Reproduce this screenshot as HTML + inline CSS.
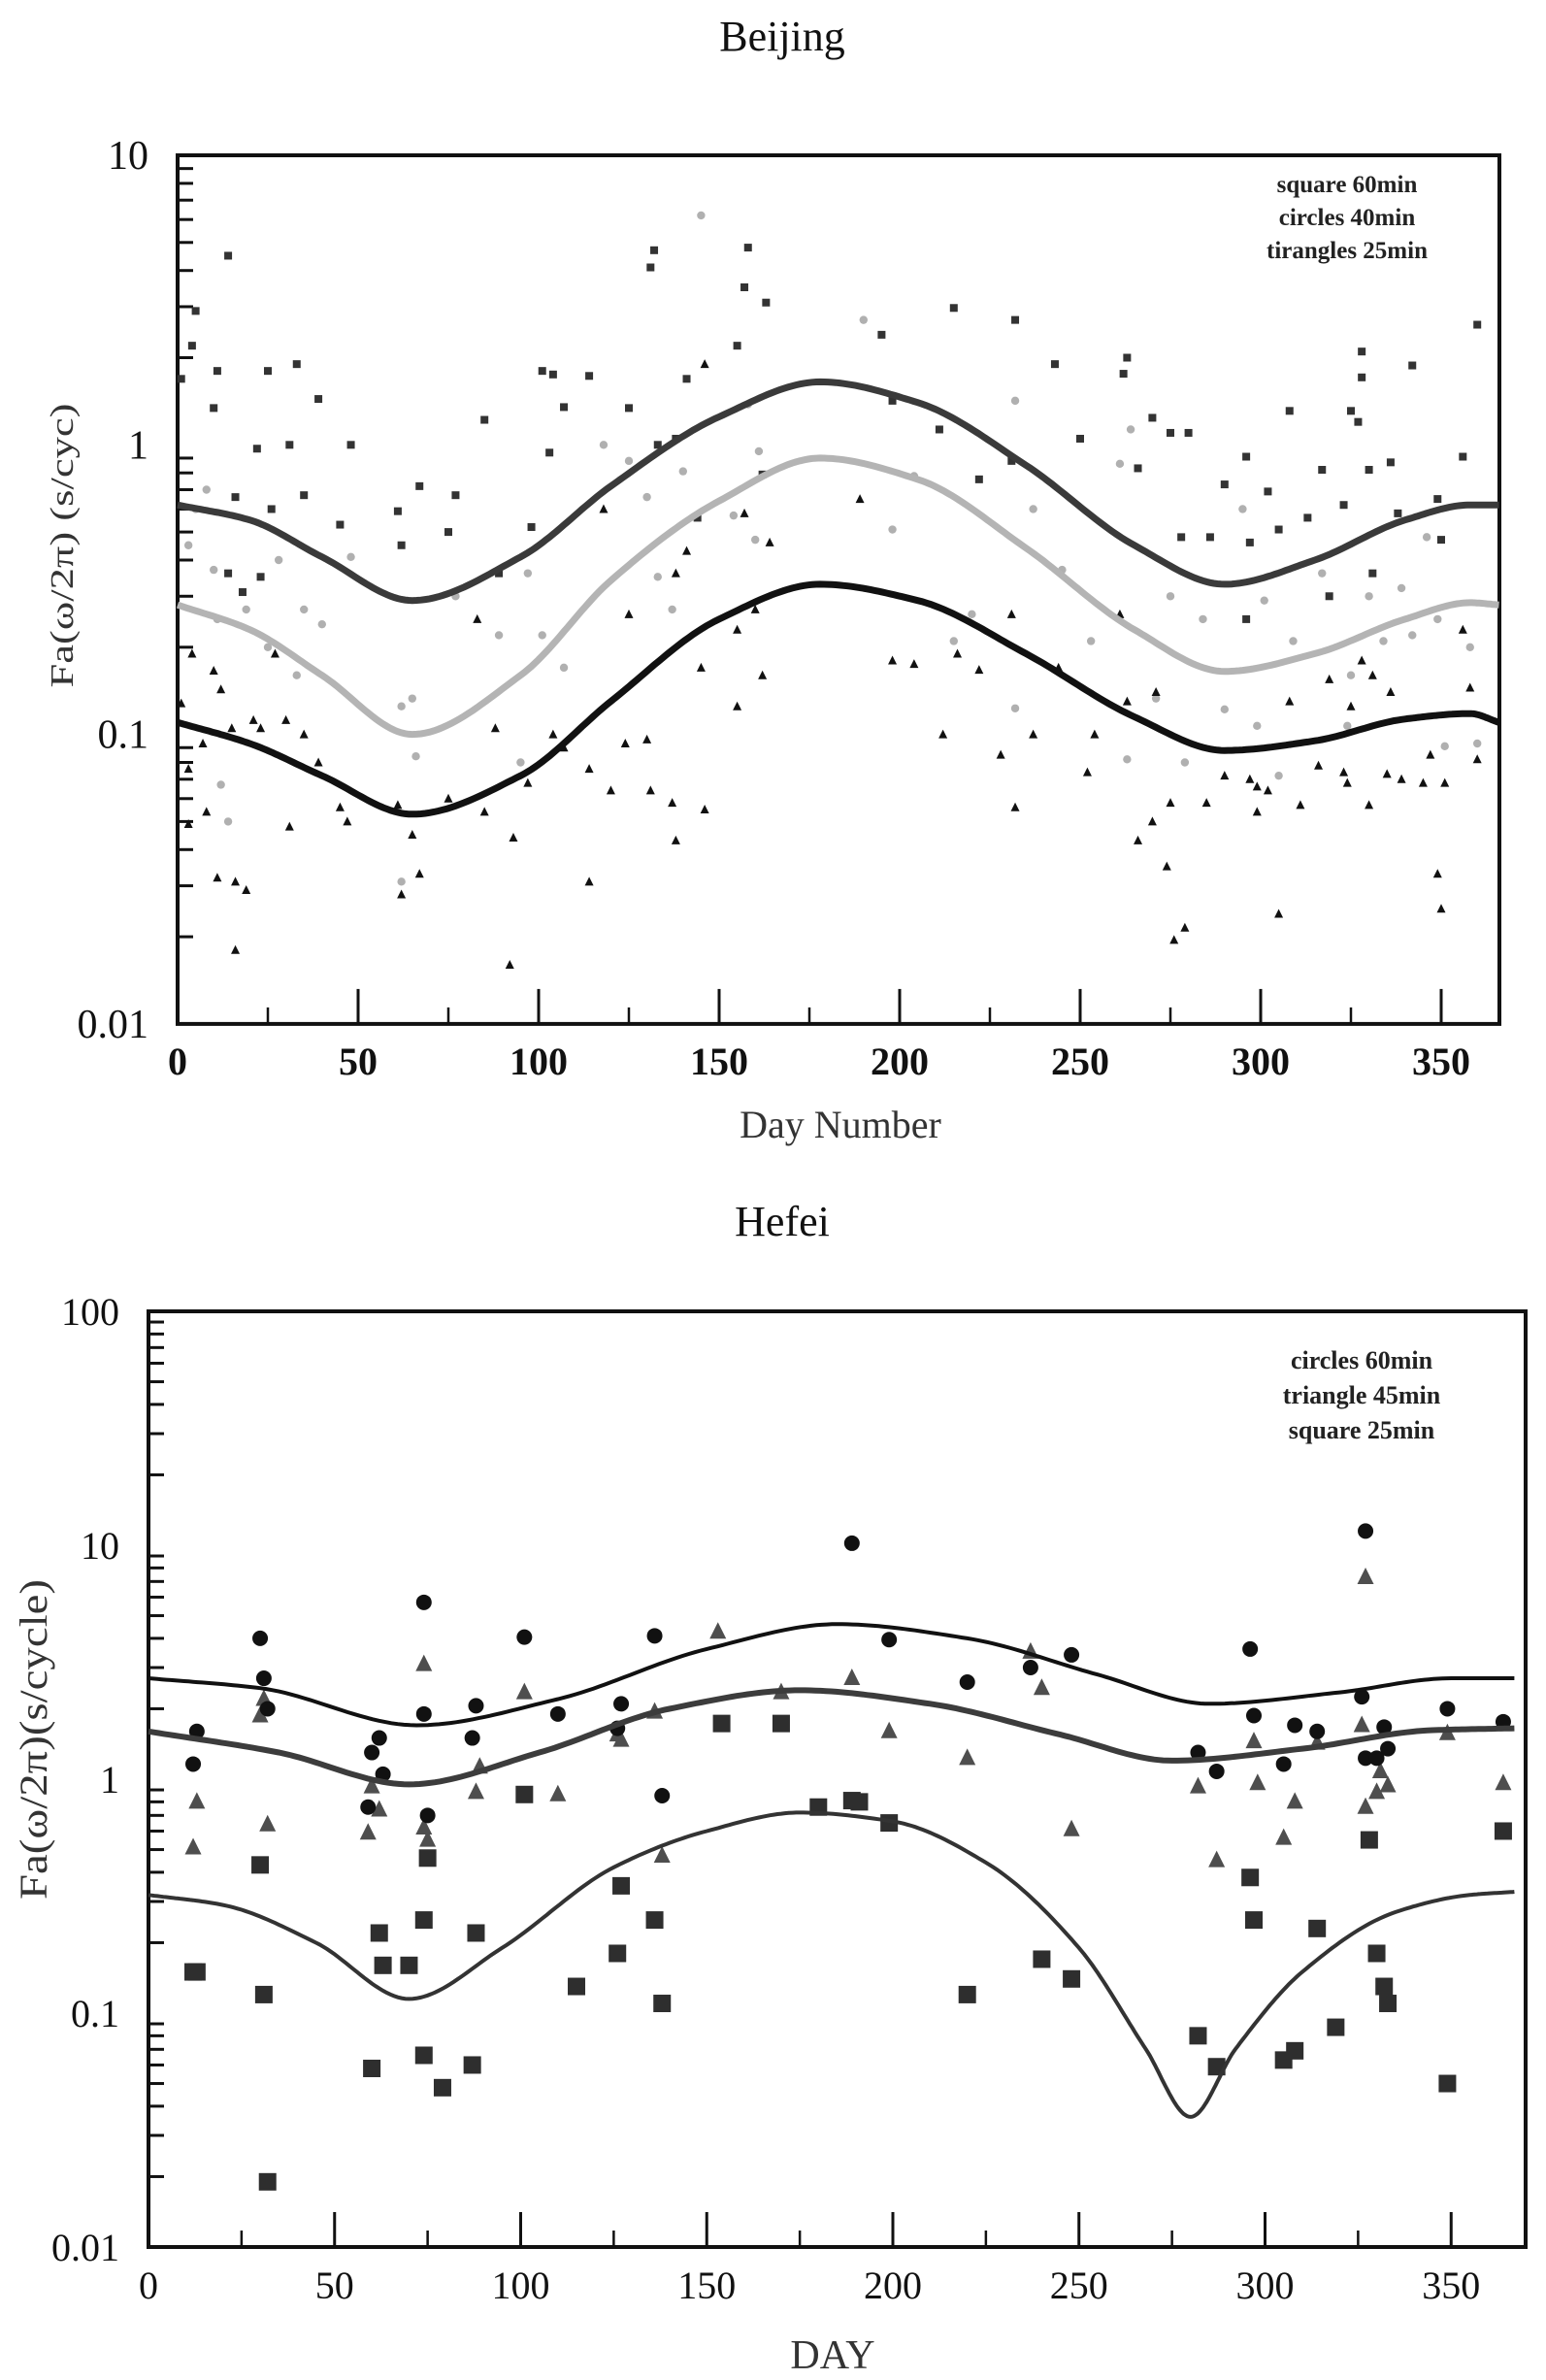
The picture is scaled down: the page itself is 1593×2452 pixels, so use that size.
<!DOCTYPE html>
<html><head><meta charset="utf-8"><title>Beijing and Hefei Fa(ω/2π) by day</title>
<style>
html,body{margin:0;padding:0;background:#fff;}
svg{display:block;}
text{font-family:"Liberation Serif",serif;}
</style></head>
<body>
<svg id="root" width="1593" height="2452" viewBox="0 0 1593 2452" xmlns="http://www.w3.org/2000/svg"></svg>
<script>
// ===== Beijing data =====
const bjSqDays=[1,4,5,14,11,10,16,14,18,22,23,25,26,31,33,35,39,45,48,61,62,67,75,77,85,89,98,101,103,104,107,114,125,132,131,133,138,141,144,155,157,158,163,162,195,198,211,215,222,232,231,243,250,262,263,266,270,275,280,278,286,290,296,297,296,302,305,308,313,317,319,323,325,327,328,328,330,331,336,338,342,349,350,356,360];
const bjSqVals=[1.69,2.2,2.9,4.5,1.8,1.34,0.66,0.36,0.31,0.97,0.35,1.8,0.6,1.0,1.9,0.67,1.44,0.53,1.0,0.59,0.45,0.72,0.5,0.67,1.22,0.36,0.52,1.8,0.94,1.75,1.35,1.73,1.34,4.7,4.1,1.0,1.05,1.69,0.56,2.2,3.5,4.8,3.1,0.79,2.4,1.42,1.13,2.97,0.76,2.7,0.88,1.9,1.05,1.76,2.0,0.83,1.24,1.1,1.1,0.48,0.48,0.73,0.91,0.46,0.25,0.69,0.51,1.31,0.56,0.82,0.3,0.62,1.31,1.2,1.71,2.1,0.82,0.36,0.87,0.58,1.88,0.65,0.47,0.91,2.6];
const bjCiDays=[3,5,8,10,11,14,12,19,25,28,33,35,40,48,62,62,65,66,77,89,95,97,101,107,118,125,130,133,137,140,145,154,158,160,161,190,198,204,215,220,232,232,237,245,253,261,263,264,271,275,279,284,290,295,299,301,305,309,317,324,325,330,334,339,342,346,349,351,358,360];
const bjCiVals=[0.45,0.6,0.7,0.37,0.25,0.05,0.067,0.27,0.2,0.4,0.16,0.27,0.24,0.41,0.031,0.125,0.133,0.084,0.3,0.22,0.08,0.36,0.22,0.17,1.0,0.88,0.66,0.35,0.27,0.81,6.2,0.57,1.38,0.47,0.95,2.7,0.51,0.78,0.21,0.26,1.42,0.123,0.6,0.37,0.21,0.86,0.082,1.13,0.133,0.3,0.08,0.25,0.122,0.6,0.107,0.29,0.072,0.21,0.36,0.107,0.16,0.3,0.21,0.32,0.22,0.48,0.25,0.091,0.2,0.093];
const bjTrDays=[1,3,3,4,7,8,10,12,15,16,16,19,11,21,23,27,30,31,35,39,45,47,61,62,65,67,75,83,85,88,92,93,97,104,107,114,114,118,120,124,125,130,131,137,138,138,141,146,145,146,155,155,157,160,162,164,189,198,204,212,216,222,228,231,232,237,244,252,254,261,263,266,270,271,274,275,276,279,285,290,297,299,299,302,305,308,311,316,319,323,324,325,328,330,331,335,336,339,345,347,349,350,351,356,358,360];
const bjTrVals=[0.128,0.076,0.049,0.19,0.093,0.054,0.166,0.143,0.105,0.018,0.031,0.029,0.032,0.112,0.105,0.19,0.112,0.048,0.1,0.08,0.056,0.05,0.057,0.028,0.045,0.033,0.06,0.25,0.054,0.105,0.016,0.044,0.068,0.1,0.09,0.076,0.031,0.6,0.064,0.093,0.26,0.096,0.064,0.058,0.043,0.36,0.43,1.9,0.17,0.055,0.125,0.23,0.58,0.27,0.16,0.46,0.65,0.18,0.175,0.1,0.19,0.167,0.085,0.26,0.056,0.1,0.17,0.074,0.1,0.26,0.13,0.043,0.05,0.14,0.035,0.058,0.0195,0.0215,0.058,0.072,0.07,0.066,0.054,0.064,0.024,0.13,0.057,0.078,0.155,0.074,0.068,0.125,0.18,0.057,0.16,0.073,0.14,0.07,0.068,0.085,0.033,0.025,0.068,0.23,0.145,0.082];
const bjFitDays=[0,20,40,65,95,120,150,178,205,235,265,290,315,340,358,366];
const bjFitSq=[0.62,0.55,0.41,0.29,0.41,0.72,1.25,1.65,1.4,0.85,0.45,0.33,0.40,0.55,0.62,0.62];
const bjFitCi=[0.28,0.23,0.16,0.10,0.16,0.34,0.64,0.90,0.76,0.44,0.23,0.165,0.19,0.25,0.285,0.28];
const bjFitTr=[0.11,0.093,0.072,0.053,0.072,0.13,0.25,0.33,0.29,0.19,0.115,0.088,0.095,0.113,0.118,0.11];
const bjYTicks=["10","1","0.1","0.01"];
const bjXTicks=[0,50,100,150,200,250,300,350];
// ===== Hefei data =====
const hfCiDays=[12,13,30,31,32,59,60,62,63,74,74,75,87,88,101,110,126,127,136,138,189,199,220,237,248,282,287,296,297,305,308,314,326,327,327,330,332,333,349,364];
const hfCiVals=[1.16,1.6,4.0,2.7,2.0,0.76,1.3,1.5,1.05,5.7,1.9,0.7,1.5,2.06,4.05,1.9,1.65,2.1,4.1,0.85,10.2,3.95,2.6,3.0,3.4,1.3,1.08,3.6,1.87,1.16,1.7,1.6,2.25,11.5,1.23,1.23,1.67,1.35,2.0,1.76];
const hfTrDays=[12,13,30,31,32,59,60,62,74,74,75,88,89,101,110,126,127,136,138,153,170,189,199,220,237,240,248,282,287,297,298,305,308,314,327,327,326,330,331,333,349,364];
const hfTrVals=[0.51,0.8,1.87,2.2,0.64,0.59,0.93,0.74,3.1,0.62,0.55,0.88,1.13,2.35,0.86,1.55,1.47,1.94,0.47,4.26,2.35,2.7,1.6,1.23,3.5,2.45,0.61,0.93,0.45,1.45,0.96,0.56,0.8,1.43,7.3,0.76,1.7,0.88,1.08,0.94,1.57,0.96];
const hfSqDays=[12,13,30,31,32,60,62,63,70,74,74,75,79,87,88,101,115,126,127,136,138,154,170,180,189,191,199,220,240,248,282,287,296,297,305,308,314,319,328,330,332,333,349,364];
const hfSqVals=[0.15,0.15,0.43,0.12,0.019,0.058,0.22,0.16,0.16,0.25,0.066,0.46,0.048,0.06,0.22,0.86,0.13,0.18,0.35,0.25,0.11,1.73,1.73,0.76,0.81,0.8,0.65,0.12,0.17,0.14,0.08,0.059,0.38,0.25,0.063,0.069,0.23,0.087,0.55,0.18,0.13,0.11,0.05,0.6];
const hfFitDays=[0,30,72,110,150,185,220,255,285,320,350,367];
const hfFitCi=[2.7,2.45,1.7,2.2,3.6,4.6,4.0,2.8,2.1,2.35,2.7,2.7];
const hfFitDays2=[0,35,70,105,140,175,210,245,275,310,345,367];
const hfFitTr=[1.6,1.3,0.95,1.3,2.0,2.4,2.1,1.55,1.2,1.35,1.62,1.65];
const hfFitDays3=[0,20,45,70,95,125,150,175,200,225,250,268,280,292,310,335,355,367];
const hfFitSq=[0.32,0.29,0.2,0.115,0.19,0.42,0.6,0.72,0.66,0.44,0.19,0.07,0.036,0.07,0.15,0.27,0.32,0.33];
const hfYTicks=["100","10","1","0.1","0.01"];
const hfXTicks=[0,50,100,150,200,250,300,350];

const NS="http://www.w3.org/2000/svg";
const root=document.getElementById('root');
function mk(tag,attrs,parent){const e=document.createElementNS(NS,tag);for(const k in attrs)e.setAttribute(k,attrs[k]);(parent||root).appendChild(e);return e;}

function makeAxes(o){
  const x=d=>o.x0+d*o.pxDay;
  const y=v=>o.yTop+(o.logMax-Math.log10(v))*o.decade;
  return {x,y};
}
function smooth(days,vals,ax){
  // monotone cubic (Fritsch-Carlson) in log space
  const n=days.length,X=days,Y=vals.map(v=>Math.log10(v));
  const h=[],s=[];
  for(let i=0;i<n-1;i++){h.push(X[i+1]-X[i]);s.push((Y[i+1]-Y[i])/h[i]);}
  const m=new Array(n);
  m[0]=s[0];m[n-1]=s[n-2];
  for(let i=1;i<n-1;i++){
    if(s[i-1]*s[i]<=0)m[i]=0;
    else{const w1=2*h[i]+h[i-1],w2=h[i]+2*h[i-1];m[i]=(w1+w2)/(w1/s[i-1]+w2/s[i]);}
  }
  const pts=[];
  for(let i=0;i<n-1;i++){
    for(let t=0;t<1;t+=0.04){
      const t2=t*t,t3=t2*t;
      const yy=(2*t3-3*t2+1)*Y[i]+(t3-2*t2+t)*h[i]*m[i]+(-2*t3+3*t2)*Y[i+1]+(t3-t2)*h[i]*m[i+1];
      pts.push([X[i]+t*h[i],yy]);
    }
  }
  pts.push([X[n-1],Y[n-1]]);
  return pts.map((p,i)=>(i?'L':'M')+ax.x(p[0]).toFixed(1)+' '+ax.y(Math.pow(10,p[1])).toFixed(1)).join(' ');
}

function drawFrame(g,o,ax,yTicks,xTicks,boldX,fs){
  const yB=o.yTop+o.decades*o.decade;
  const frame=mk('rect',{x:o.x0,y:o.yTop,width:o.xR-o.x0,height:yB-o.yTop,fill:'none',stroke:'#111','stroke-width':4},g);
  
  
  for(let d=0;d<o.decades;d++){
    const base=Math.pow(10,o.logMax-d-1);
    for(let m=2;m<=9;m++){
      const yy=ax.y(base*m);
      const t=mk('line',{x1:o.x0,x2:o.x0+16,y1:yy,y2:yy,stroke:'#111','stroke-width':3},g);
      
      
    }
  }
  yTicks.forEach((lab,i)=>{
    const yy=o.yTop+i*o.decade;
    const t=mk('text',{x:o.x0-30,y:yy+14,'text-anchor':'end','font-size':o.yfs,fill:'#111'},g);
    t.textContent=lab;
    
    
  });
  for(let d=25;d*o.pxDay<o.xR-o.x0-5;d+=25){
    const xx=ax.x(d);const major=d%50===0;
    const t=mk('line',{x1:xx,x2:xx,y1:yB,y2:yB-(major?36:17),stroke:'#111','stroke-width':major?3:2.5},g);
    
    
  }
  xTicks.forEach(v=>{
    const t=mk('text',{x:ax.x(v),y:yB+o.xlabOff,'text-anchor':'middle','font-size':fs,'font-weight':boldX?'bold':'normal',fill:'#111'},g);
    t.textContent=String(v);
    
    
  });
}

// ===== Beijing =====
const bjO={x0:183,xR:1545,pxDay:3.72,yTop:160,decade:298.3,logMax:1,decades:3,yfs:42,xlabOff:52};
const bjAx=makeAxes(bjO);
const gB=mk('g',{});


let tt=mk('text',{x:806,y:52,'text-anchor':'middle','font-size':44,fill:'#111'},gB);
tt.textContent='Beijing';


drawFrame(gB,bjO,bjAx,bjYTicks,bjXTicks,true,40);
tt=mk('text',{x:866,y:1172,'text-anchor':'middle','font-size':40,fill:'#333'},gB);
tt.textContent='Day Number';


tt=mk('text',{x:0,y:0,'text-anchor':'middle','font-size':34,fill:'#333',transform:'translate(75,562) rotate(-90)',textLength:293,lengthAdjust:'spacingAndGlyphs'},gB);
tt.textContent='Fa(ω/2π) (s/cyc)';


['square 60min','circles  40min','tirangles 25min'].forEach((s,i)=>{
  const t=mk('text',{x:1388,y:198+i*34,'text-anchor':'middle','font-size':25,'font-weight':'bold',fill:'#222','xml:space':'preserve'},gB);
  t.textContent=s;
  
  
});
bjSqDays.forEach((d,i)=>{
  const r=mk('rect',{x:bjAx.x(d)-4,y:bjAx.y(bjSqVals[i])-4,width:8,height:8,fill:'#333'},gB);
  
  
});
bjCiDays.forEach((d,i)=>{
  const c=mk('circle',{cx:bjAx.x(d),cy:bjAx.y(bjCiVals[i]),r:4.2,fill:'#b0b0b0'},gB);
  
  
});
bjTrDays.forEach((d,i)=>{
  const X=bjAx.x(d),Y=bjAx.y(bjTrVals[i]);
  const p=mk('polygon',{points:`${X},${Y-5} ${X-4.5},${Y+4} ${X+4.5},${Y+4}`,fill:'#111'},gB);
  
  
});
[[bjFitSq,'#3a3a3a','fit-curve-60min'],[bjFitCi,'#b4b4b4','fit-curve-40min'],[bjFitTr,'#111','fit-curve-25min']].forEach(([vals,col,nm])=>{
  const p=mk('path',{d:smooth(bjFitDays,vals,bjAx),fill:'none',stroke:col,'stroke-width':7},gB);
  
  
});

// ===== Hefei =====
const hfO={x0:153,xR:1572,pxDay:3.835,yTop:1351,decade:241,logMax:2,decades:4,yfs:40,xlabOff:53};
const hfAx=makeAxes(hfO);
const gH=mk('g',{});


tt=mk('text',{x:806,y:1273,'text-anchor':'middle','font-size':44,fill:'#111'},gH);
tt.textContent='Hefei';


drawFrame(gH,hfO,hfAx,hfYTicks,hfXTicks,false,40);
tt=mk('text',{x:858,y:2440,'text-anchor':'middle','font-size':42,fill:'#333'},gH);
tt.textContent='DAY';


tt=mk('text',{x:0,y:0,'text-anchor':'middle','font-size':40,fill:'#333',transform:'translate(48,1792) rotate(-90)',textLength:330,lengthAdjust:'spacingAndGlyphs'},gH);
tt.textContent='Fa(ω/2π)(s/cycle)';


['circles 60min','triangle 45min','square 25min'].forEach((s,i)=>{
  const t=mk('text',{x:1403,y:1410+i*36,'text-anchor':'middle','font-size':26,'font-weight':'bold',fill:'#222'},gH);
  t.textContent=s;
  
  
});
hfSqDays.forEach((d,i)=>{
  const r=mk('rect',{x:hfAx.x(d)-9,y:hfAx.y(hfSqVals[i])-9,width:18,height:18,fill:'#2e2e2e'},gH);
  
  
});
hfTrDays.forEach((d,i)=>{
  const X=hfAx.x(d),Y=hfAx.y(hfTrVals[i]);
  const p=mk('polygon',{points:`${X},${Y-10} ${X-8.5},${Y+7} ${X+8.5},${Y+7}`,fill:'#4e4e4e'},gH);
  
  
});
hfCiDays.forEach((d,i)=>{
  const c=mk('circle',{cx:hfAx.x(d),cy:hfAx.y(hfCiVals[i]),r:8,fill:'#111'},gH);
  
  
});
[[hfFitDays,hfFitCi,'#111',4,'fit-curve-60min'],[hfFitDays2,hfFitTr,'#3c3c3c',6,'fit-curve-45min'],[hfFitDays3,hfFitSq,'#333',4,'fit-curve-25min']].forEach(([ds,vals,col,w,nm])=>{
  const p=mk('path',{d:smooth(ds,vals,hfAx),fill:'none',stroke:col,'stroke-width':w},gH);
  
  
});
</script>
</body></html>
